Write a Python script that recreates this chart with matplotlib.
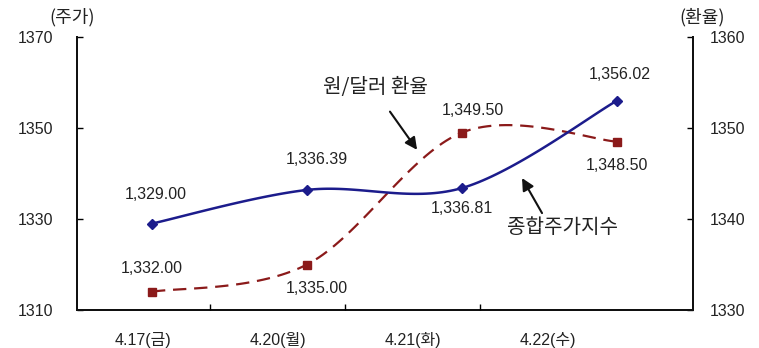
import numpy as np
import matplotlib
matplotlib.use("Agg")
import matplotlib.pyplot as plt

plt.rcParams['font.family'] = ['Liberation Sans', 'Noto Sans CJK KR', 'DejaVu Sans']

dates = ["4.17(금)", "4.20(월)", "4.21(화)", "4.22(수)"]
stock = [1329.00, 1336.39, 1336.81, 1356.02]
rate = [1332.00, 1335.00, 1349.50, 1348.50]
stock_labels = ["1,329.00", "1,336.39", "1,336.81", "1,356.02"]
rate_labels = ["1,332.00", "1,335.00", "1,349.50", "1,348.50"]
left_ticks = [1310, 1330, 1350, 1370]
right_ticks = [1330, 1340, 1350, 1360]

BLUE = "#1c1c8c"
RED = "#8b1a1a"
TXT = "#222222"


def smooth(xs, ys, n=40):
    xs = np.asarray(xs, float)
    ys = np.asarray(ys, float)
    P = np.column_stack([xs, ys])
    Pe = np.vstack([P[0], P, P[-1]])
    out = []
    for i in range(len(P) - 1):
        p0, p1, p2, p3 = Pe[i], Pe[i + 1], Pe[i + 2], Pe[i + 3]
        c1 = p1 + (p2 - p0) / 6.0
        c2 = p2 - (p3 - p1) / 6.0
        t = np.linspace(0, 1, n)[:, None]
        seg = ((1 - t) ** 3) * p1 + 3 * ((1 - t) ** 2) * t * c1 + 3 * (1 - t) * t ** 2 * c2 + t ** 3 * p2
        out.append(seg if i == 0 else seg[1:])
    out = np.vstack(out)
    return out[:, 0], out[:, 1]


fig = plt.figure(figsize=(7.59, 3.48), dpi=100)
ax = fig.add_axes([77 / 759, 1 - 310 / 348, (693 - 77) / 759, (310 - 37) / 348])
ax2 = ax.twinx()

x = np.arange(len(dates))
ax.set_xlim(-0.484, 3.49)
ax.set_ylim(1310, 1370)
ax2.set_ylim(1330, 1360)

# exchange rate (right axis)
sx, sy = smooth(x, rate)
ax2.plot(sx, sy, color=RED, lw=1.6, dashes=(6, 3.5), zorder=3)
ax2.plot(x, rate, 's', color=RED, ms=5.5, zorder=4)

# stock index (left axis)
bx, by = smooth(x, stock)
ax.plot(bx, by, color=BLUE, lw=1.8, zorder=3)
ax.plot(x, stock, 'D', color=BLUE, ms=5, zorder=4)
ax.set_zorder(ax2.get_zorder() + 1)
ax.patch.set_visible(False)

fs = 11.5
# data labels (offsets in points)
s_off = [(3, 21), (7, 22), (0, -15), (2, 19)]
r_off = [(0, 17), (7, -17), (8, 16), (0, -17)]
for i in range(len(x)):
    ax.annotate(stock_labels[i], (x[i], stock[i]), xytext=s_off[i], textcoords='offset points',
                ha='center', va='center', fontsize=fs, color=TXT)
    ax2.annotate(rate_labels[i], (x[i], rate[i]), xytext=r_off[i], textcoords='offset points',
                 ha='center', va='center', fontsize=fs, color=TXT)

# left axis
ax.set_yticks(left_ticks)
ax.tick_params(axis='y', direction='in', length=4, width=1, labelsize=fs, labelcolor=TXT, pad=17)
ax.set_xticks([])
# right axis
ax2.set_yticks(right_ticks)
ax2.tick_params(axis='y', direction='in', length=4, width=1, labelsize=fs, labelcolor=TXT, pad=12)

for a in (ax, ax2):
    a.spines['top'].set_visible(False)
    for s in ('left', 'right', 'bottom'):
        a.spines[s].set_color('#111111')
        a.spines[s].set_linewidth(1.4)

# category axis for the date labels
ax3 = ax.twiny()
ax3.set_xlim(-0.49, 4.08)
ax3.xaxis.set_ticks_position('bottom')
ax3.xaxis.set_label_position('bottom')
ax3.set_xticks(np.arange(len(dates)))
ax3.set_xticklabels(dates, fontsize=fs, color=TXT, family=['Liberation Sans', 'Noto Sans CJK KR'])
ax3.tick_params(axis='x', which='major', length=0, pad=16)
ax3.set_xticks(np.arange(len(dates) - 1) + 0.5, minor=True)
ax3.tick_params(axis='x', which='minor', direction='in', length=4, width=1)
for s in ax3.spines.values():
    s.set_visible(False)

# axis titles
fig.text(72 / 759, 1 - 17 / 348, "(주가)", fontsize=13, ha='center', va='center', color=TXT,
         family=['Noto Sans CJK KR'])
fig.text(702 / 759, 1 - 17 / 348, "(환율)", fontsize=13, ha='center', va='center', color=TXT,
         family=['Noto Sans CJK KR'])

# annotations with arrows
arrow = dict(arrowstyle='-|>', color='#111111', lw=1.5, mutation_scale=18, shrinkA=0, shrinkB=0)
ax2.text(1.44, 1354.5, "원/달러 환율", fontsize=14.5, ha='center', va='center', color=TXT,
         family=['Noto Sans CJK KR'])
ax2.annotate("", xy=(1.71, 1347.6), xytext=(1.535, 1351.8), arrowprops=arrow)
ax.text(2.645, 1328.2, "종합주가지수", fontsize=14.5, ha='center', va='center', color=TXT,
        family=['Noto Sans CJK KR'])
ax.annotate("", xy=(2.387, 1339.0), xytext=(2.516, 1331.3), arrowprops=arrow)

fig.savefig("out.png", dpi=100, facecolor='white')
